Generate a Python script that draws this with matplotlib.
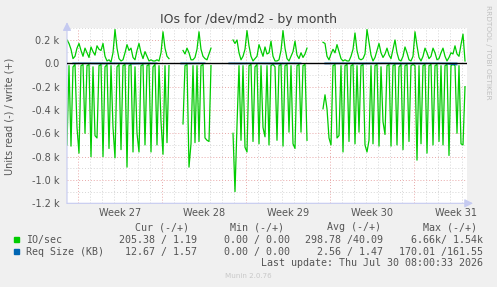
import numpy as np
import matplotlib
matplotlib.use("Agg")
import matplotlib.pyplot as plt
from matplotlib.patches import Rectangle

# ---------------- data ----------------
N = None
# IO/sec read (plotted negative), 4-hour samples starting ~0.89 day before Week 27
io_read = [700, 20, 710, 30, 10, 550, 770, 20, 10, 600,
           20, 10, 800, 30, 620, 640, 20, 10, 800, 30,
           10, 730, 20, 550, 810, 30, 10, 740, 20, 10,
           890, 20, 10, 760, 30, 600, 760, 20, 10, 700,
           20, 10, 760, 30, 10, 700, 20, 500, 780, 20,
           680, 20, N, N, N, N, N, N, 520, 20,
           10, 890, 690, 20, 680, 20, 670, 20, 10, 640,
           660, 670, 20, N, N, N, N, N, N, N,
           N, N, N, 600, 1100, 530, 20, 660, 20, 720,
           760, 20, 10, 670, 30, 10, 690, 20, 550, 630,
           20, 700, 20, 10, 30, 660, 20, 10, 710, 20,
           10, 590, 20, 690, 730, 20, 10, 590, 20, 10,
           660, N, N, N, N, N, N, N, 390, 270,
           390, 640, 700, 20, 10, 640, 620, 20, 760, 20,
           10, 670, 20, 10, 690, 20, 590, 20, 10, 700,
           760, 660, 20, 690, 20, 10, 710, 30, 500, 610,
           20, 10, 710, 20, 10, 700, 30, 10, 740, 20,
           10, 670, 20, 10, 20, 830, 20, 690, 20, 10,
           770, 20, 10, 700, 20, 10, 670, 20, 700, 20,
           10, 790, 20, 10, 20, 600, 20, 690, 700, 200]
# IO/sec write (plotted positive)
io_write = [200, 170, 120, 40, 60, 130, 170, 110, 60, 130,
            90, 50, 140, 100, 70, 150, 120, 110, 170, 60,
            20, 30, 10, 90, 290, 130, 40, 20, 30, 90,
            160, 110, 130, 50, 30, 110, 170, 90, 40, 100,
            60, 20, 30, 20, 20, 30, 20, 90, 270, 130,
            60, 40, N, N, N, N, N, N, 110, 80,
            130, 90, 30, 30, 50, 120, 270, 120, 60, 40,
            30, 80, 130, N, N, N, N, N, N, N,
            N, N, N, 200, 170, 200, 90, 30, 60, 120,
            280, 150, 60, 20, 40, 60, 160, 110, 60, 140,
            80, 90, 190, 60, 20, 20, 30, 110, 280, 130,
            40, 20, 60, 100, 190, 70, 40, 90, 50, 80,
            130, N, N, N, N, N, N, N, 180, 170,
            60, 30, 80, 120, 90, 160, 100, 40, 20, 30,
            20, 20, 60, 120, 260, 110, 40, 30, 40, 80,
            290, 180, 70, 20, 50, 110, 170, 90, 50, 80,
            130, 70, 40, 120, 200, 90, 30, 20, 60, 140,
            90, 30, 20, 60, 270, 150, 50, 20, 60, 130,
            90, 40, 60, 130, 90, 30, 40, 90, 130, 60,
            20, 50, 90, 80, 150, 80, 60, 160, 250, 20]
# Req Size (KB), daily samples
req_read = [3, 2, 4, 3, 2, 5, 3, 2, N, 4, 3, 2, N, 3, 4, 2, 3, 5, 2, 3,
            N, 4, 3, 2, 4, 3, 2, 5, 3, 4, 2, 3, 13]
req_write = [1.5, 1.4, 1.6, 1.5, 1.3, 1.5, 1.6, 1.4, N, 1.5, 1.4, 1.6, N, 1.5, 1.4,
             1.5, 1.6, 1.4, 1.5, 1.5, N, 1.4, 1.6, 1.5, 1.4, 1.5, 1.6, 1.5, 1.4,
             1.5, 1.5, 1.6, 1.6]

week_labels = ["Week 27", "Week 28", "Week 29", "Week 30", "Week 31"]
yticks = [200, 0, -200, -400, -600, -800, -1000, -1200]

legend_header = ["Cur (-/+)", "Min (-/+)", "Avg (-/+)", "Max (-/+)"]
legend_rows = [
    ("IO/sec", "#00CC00", ["205.38 / 1.19", "0.00 / 0.00", "298.78 /40.09", "6.66k/ 1.54k"]),
    ("Req Size (KB)", "#0066B3", ["12.67 / 1.57", "0.00 / 0.00", "2.56 / 1.47", "170.01 /161.55"]),
]

# ---------------- figure ----------------
W, H = 497, 287
fig = plt.figure(figsize=(W / 100, H / 100), dpi=100, facecolor="#F0F0F0")

def fx(px):
    return px / W

def fy(py):
    return 1 - py / H

L, R, T, B = 67, 467, 28.3, 203.3
ax = fig.add_axes([fx(L), fy(B), (R - L) / W, (B - T) / H])
ax.set_facecolor("white")

x0 = -0.8917
step = 1 / 6
t = x0 + step * np.arange(len(io_read))
rd = np.array(io_read, dtype=float)
wr = np.array(io_write, dtype=float)
td = -0.4 + np.arange(len(req_read))
rq_r = np.array(req_read, dtype=float)
rq_w = np.array(req_write, dtype=float)

xmin, xmax = x0, x0 + 400 / 12
ax.set_xlim(xmin, xmax)
ax.set_ylim(-1200, 300)

# grid
minor_c = "#D6D6D6"
major_c = "#E8A8A8"
dot = (0, (1, 2))
for d in np.arange(0, 33):
    if d % 7 == 0:
        continue
    ax.axvline(d, color=minor_c, lw=0.7, ls=dot, zorder=0)
for y in range(-1100, 301, 100):
    if y % 200 != 0:
        ax.axhline(y, color=minor_c, lw=0.7, ls=dot, zorder=0)
for d in [0, 7, 14, 21, 28]:
    ax.axvline(d, color=major_c, lw=0.7, ls=dot, zorder=0.5)
for y in yticks:
    if y not in (0, -1200):
        ax.axhline(y, color=major_c, lw=0.7, ls=dot, zorder=0.5)

green = "#00CC00"
blue = "#0066B3"
ax.plot(t, -rd, color=green, lw=0.9, zorder=2)
ax.plot(t, wr, color=green, lw=0.9, zorder=2)
ax.plot(td, -rq_r, color=blue, lw=0.8, zorder=3)
ax.plot(td, rq_w, color=blue, lw=0.8, zorder=3)
ax.axhline(0, color="black", lw=1.0, zorder=4)

for s in ax.spines.values():
    s.set_visible(False)

# axes lines with arrows
axis_c = "#C5CAF0"
ax.annotate("", xy=(1.015, 0), xytext=(0, 0), xycoords="axes fraction",
            textcoords="axes fraction",
            arrowprops=dict(arrowstyle="-|>,head_length=0.5,head_width=0.25",
                            color=axis_c, lw=0.8, shrinkA=0, shrinkB=0),
            annotation_clip=False)
ax.annotate("", xy=(0, 1.035), xytext=(0, 0), xycoords="axes fraction",
            textcoords="axes fraction",
            arrowprops=dict(arrowstyle="-|>,head_length=0.5,head_width=0.25",
                            color=axis_c, lw=0.8, shrinkA=0, shrinkB=0),
            annotation_clip=False)

# ticks
ax.set_xticks([])
ax.set_yticks(yticks)
ax.set_yticklabels([("0.0" if v == 0 else f"{v/1000:.1f} k") for v in yticks])
ax.tick_params(axis="y", length=0, pad=5.5, labelsize=7, labelcolor="#555555")
for i, lab in enumerate(week_labels):
    ax.text(3.5 + 7 * i, -1281, lab, ha="center", va="center",
            fontsize=7, color="#555555", clip_on=False)

# texts
fig.text(fx(248), fy(19.3), "IOs for /dev/md2 - by month", ha="center", va="center",
         fontsize=9, color="#404040")
fig.text(fx(10), fy(116), "Units read (-) / write (+)", rotation=90, ha="center",
         va="center", fontsize=7, color="#555555")
fig.text(fx(488), fy(5), "RRDTOOL / TOBI OETIKER", rotation=270, ha="center", va="top",
         fontsize=5.3, color="#C0C0C0")

mono = dict(family="DejaVu Sans Mono", fontsize=7.2, color="#555555", va="center")
hdr_x = [134.7, 230, 326.7, 422.7]
for hx, h in zip(hdr_x, legend_header):
    fig.text(fx(hx), fy(227.3), h, ha="left", **mono)
col_right = [196.7, 290, 383.3, 482.7]
row_y = [239.7, 251.7]
for (name, col, vals), ry in zip(legend_rows, row_y):
    fig.add_artist(Rectangle((fx(14), fy(ry + 2.7)), 5.3 / W, 5.4 / H,
                             transform=fig.transFigure, color=col))
    fig.text(fx(26), fy(ry), name, ha="left", **mono)
    for cr, v in zip(col_right, vals):
        fig.text(fx(cr), fy(ry), v, ha="right", **mono)
fig.text(fx(482.7), fy(263.3), "Last update: Thu Jul 30 08:00:33 2026", ha="right", **mono)
fig.text(fx(248), fy(276.3), "Munin 2.0.76", ha="center", va="center", fontsize=5.1,
         color="#C8C8C8")

fig.savefig("out.png", dpi=100, facecolor=fig.get_facecolor())
